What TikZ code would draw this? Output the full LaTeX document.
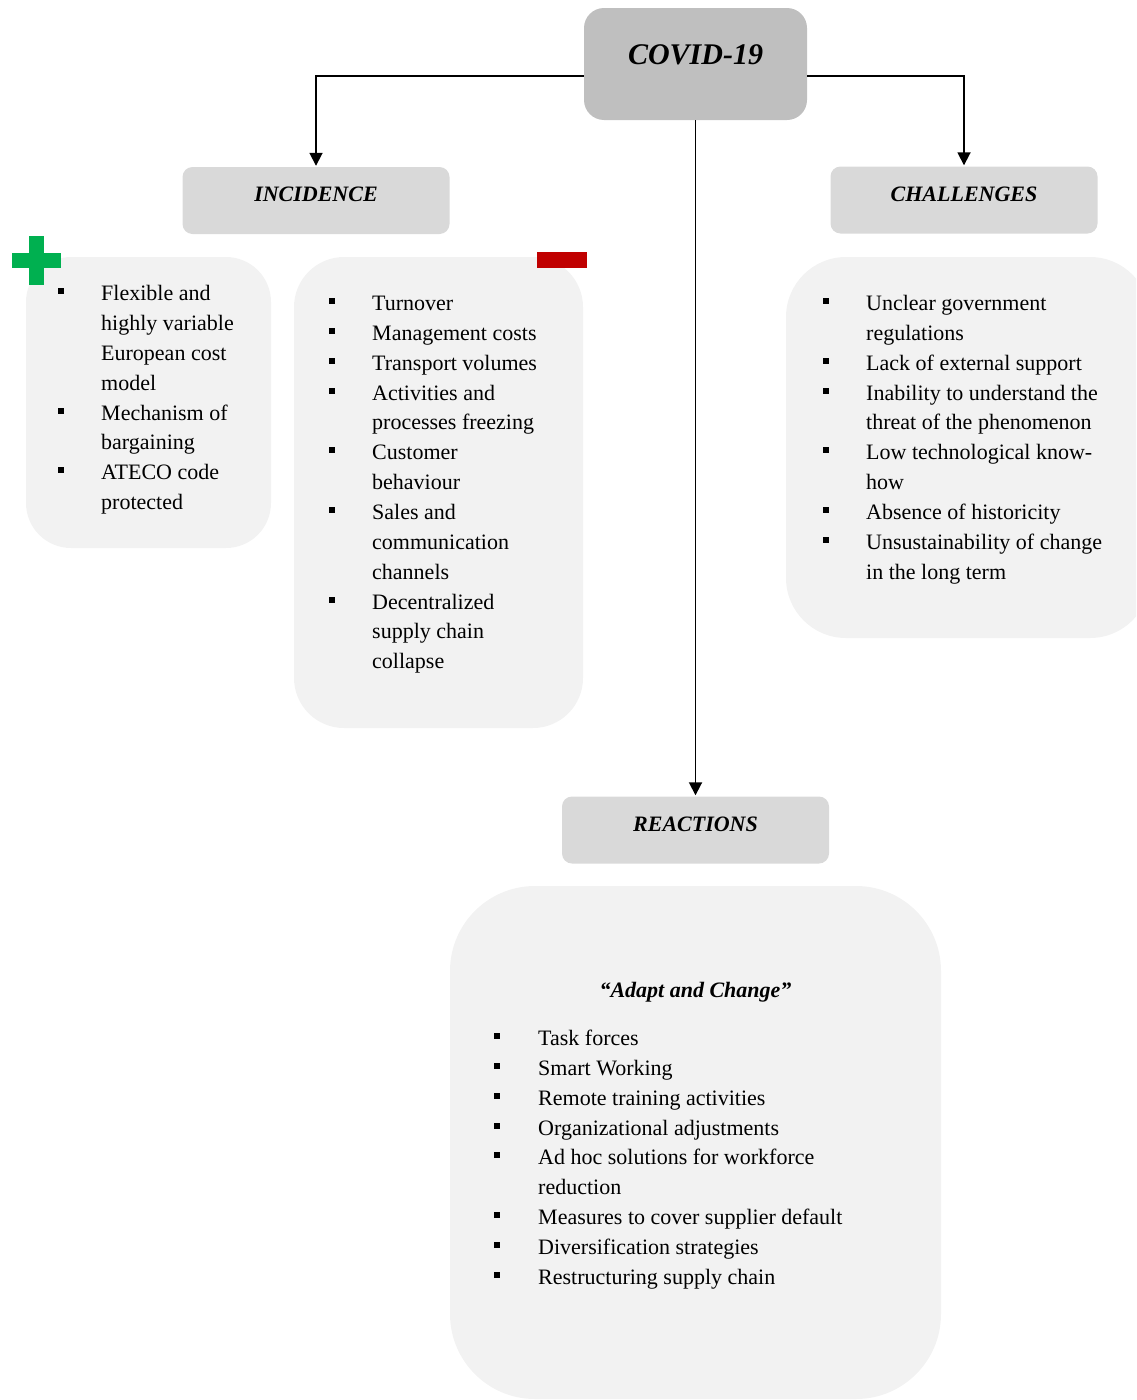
\documentclass[tikz,border=0pt]{standalone}
\usepackage{fontspec}
\setmainfont{Liberation Serif}
\usetikzlibrary{arrows.meta}

\definecolor{covidgray}{HTML}{BFBFBF}
\definecolor{headgray}{HTML}{D9D9D9}
\definecolor{panelgray}{HTML}{F2F2F2}
\definecolor{plusgreen}{HTML}{00B050}
\definecolor{minusred}{HTML}{C00000}

\tikzset{
  itemtxt/.style={font=\fontsize{22}{29.85}\selectfont, inner sep=0pt, anchor=base west},
  headtxt/.style={font=\fontsize{22}{26}\selectfont\bfseries\itshape, inner sep=0pt, anchor=base},
  headbox/.style={fill=headgray, rounded corners=10pt, minimum width=267pt, minimum height=67pt, inner sep=0pt},
  panel/.style={fill=panelgray},
  bul/.style={fill=black, minimum size=6pt, inner sep=0pt},
  conn/.style={line width=1.8pt, -{Triangle[length=13pt,width=13pt]}, shorten >=1pt},
}

% bulleted list: name, bullet x, text x, first baseline, bulleted lines, lines
\newcommand\bulletlist[6]{%
  \foreach \t [count=\i] in {#6} {
    \node[itemtxt] (#1-\i) at (#3, {#4+(\i-1)*29.85}) {\t};
  }
  \foreach \k in {#5} {
    \node[bul] (#1-b\k) at (#2, {#4+(\k-1)*29.85-9.5}) {};
  }
}

\begin{document}
\begin{tikzpicture}[x=1pt, y=-1pt]
\useasboundingbox (0,0) rectangle (1136,1400);
\clip (0,0) rectangle (1136,1400);

% header boxes
\node[fill=covidgray, rounded corners=20pt, minimum width=223pt, minimum height=112pt, inner sep=0pt] (covid) at (695.5,64) {};
\node[headtxt, font=\fontsize{30}{34}\selectfont\bfseries\itshape] (covid-t) at (695.5,64.3) {COVID-19};

\node[headbox] (incid) at (316,200.5) {};
\node[headtxt] (incid-t) at (316,201.5) {INCIDENCE};

\node[headbox] (chall) at (964,200) {};
\node[headtxt] (chall-t) at (964,201) {CHALLENGES};

\node[headbox] (react) at (695.5,830) {};
\node[headtxt] (react-t) at (695.5,831) {REACTIONS};

% connectors
\draw[conn] ([yshift=-12pt]covid.west) -| (incid.north);
\draw[conn] ([yshift=-12pt]covid.east) -| (chall.north);
\draw[conn] (covid.south) -- (react.north);

% content panels
\fill[panel, rounded corners=45pt] (26,257) rectangle (271,548);
\fill[panel, rounded corners=50pt] (294,257) rectangle (583,728);
\fill[panel, rounded corners=60pt] (786,257) rectangle (1150,638);
\fill[panel, rounded corners=85pt] (450,886) rectangle (941,1399);

% plus and minus markers
\fill[plusgreen] (12,252.5) rectangle (61,268);
\fill[plusgreen] (29,236) rectangle (44,285);
\fill[minusred] (537,252) rectangle (587,268);

% lists
\bulletlist{pos}{61}{101}{300.7}{1,5,7}{Flexible and, highly variable, European cost, model, Mechanism of, bargaining, ATECO code, protected}

\bulletlist{neg}{332}{372}{310.5}{1,2,3,4,6,8,11}{Turnover, Management costs, Transport volumes, Activities and, processes freezing, Customer, behaviour, Sales and, communication, channels, Decentralized, supply chain, collapse}

\bulletlist{chl}{826}{866}{310.5}{1,3,4,6,8,9}{Unclear government, regulations, Lack of external support, Inability to understand the, threat of the phenomenon, Low technological know-, how, Absence of historicity, Unsustainability of change, in the long term}

\node[headtxt] (adapt) at (695.5,997.5) {“Adapt and Change”};

\bulletlist{rea}{497}{538}{1045.5}{1,2,3,4,5,7,8,9}{Task forces, Smart Working, Remote training activities, Organizational adjustments, Ad hoc solutions for workforce, reduction, Measures to cover supplier default, Diversification strategies, Restructuring supply chain}
\end{tikzpicture}
\end{document}
